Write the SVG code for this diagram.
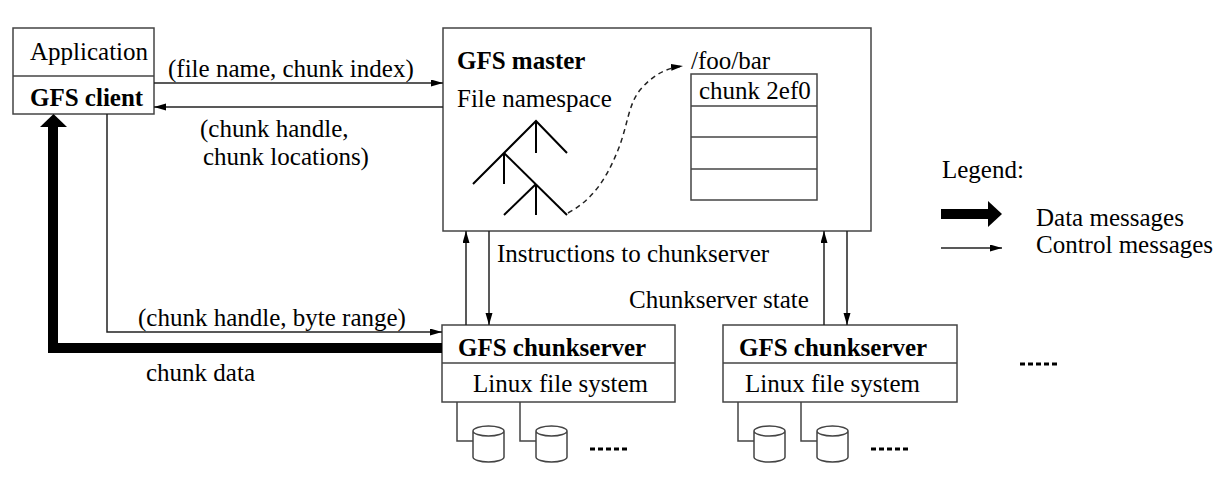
<svg xmlns="http://www.w3.org/2000/svg" width="1228" height="489" viewBox="0 0 1228 489">
<style>
text{font-family:"Liberation Serif","Times New Roman",serif;font-size:25px;fill:#000}
.b{font-weight:bold}
.box{fill:#fff;stroke:#444;stroke-width:1.5}
.ln{fill:none;stroke:#444;stroke-width:1.5}
.arr{fill:none;stroke:#222;stroke-width:1.5;marker-end:url(#ah)}
.thick{fill:none;stroke:#000;stroke-width:10;stroke-linejoin:miter}
.dots{fill:none;stroke:#000;stroke-width:3;stroke-dasharray:5 3}
.disk{fill:#fff;stroke:#444;stroke-width:1.5}
.tree{fill:none;stroke:#000;stroke-width:2}
</style>
<defs>
<marker id="ah" markerUnits="userSpaceOnUse" markerWidth="13" markerHeight="8" refX="12" refY="3.5" orient="auto">
<path d="M0,0 L12,3.5 L0,7 z" fill="#000"/>
</marker>
</defs>
<rect width="1228" height="489" fill="#fff"/>

<g id="client">
<rect class="box" x="13" y="28" width="141" height="86"/>
<line class="ln" x1="13" y1="76" x2="154" y2="76"/>
<text x="30" y="60">Application</text>
<text class="b" x="30" y="106">GFS client</text>
</g>

<g id="master">
<rect class="box" x="443" y="28" width="428" height="203"/>
<text class="b" x="457" y="69">GFS master</text>
<text x="457" y="107">File namespace</text>
<text x="691" y="69">/foo/bar</text>
<rect class="box" x="691" y="74" width="126" height="126"/>
<line class="ln" x1="691" y1="106" x2="817" y2="106"/>
<line class="ln" x1="691" y1="137" x2="817" y2="137"/>
<line class="ln" x1="691" y1="169" x2="817" y2="169"/>
<text x="699" y="99">chunk 2ef0</text>
<g class="tree">
<polyline points="473,184 536,121 567,153"/>
<line x1="536" y1="121" x2="536" y2="153"/>
<line x1="504" y1="153" x2="567" y2="215"/>
<line x1="504" y1="153" x2="504" y2="184"/>
<line x1="536" y1="184" x2="504" y2="215"/>
<line x1="536" y1="184" x2="536" y2="215"/>
</g>
<path d="M568,213 C592,200 606,180 618,150 C628,125 628,105 640,90 C652,76 665,68 683,66" fill="none" stroke="#222" stroke-width="1.5" stroke-dasharray="5 4" marker-end="url(#ah)"/>
</g>

<g id="chunkserver1">
<rect class="box" x="442" y="325" width="233" height="77"/>
<line class="ln" x1="442" y1="363" x2="675" y2="363"/>
<text class="b" x="458" y="356">GFS chunkserver</text>
<text x="473" y="392">Linux file system</text>
<path class="ln" d="M457,402 V441 H473 M520,402 V441 H536"/>
<path class="disk" d="M473,431 V457 A15.5,5 0 0 0 504,457 V431 A15.5,5 0 0 0 473,431 A15.5,5 0 0 0 504,431"/>
<path class="disk" d="M536,431 V457 A15.5,5 0 0 0 567,457 V431 A15.5,5 0 0 0 536,431 A15.5,5 0 0 0 567,431"/>
<line class="dots" x1="590" y1="449" x2="629" y2="449"/>
</g>

<g id="chunkserver2">
<rect class="box" x="723" y="325" width="234" height="77"/>
<line class="ln" x1="723" y1="363" x2="957" y2="363"/>
<text class="b" x="739" y="356">GFS chunkserver</text>
<text x="745" y="392">Linux file system</text>
<path class="ln" d="M738,402 V441 H754 M801,402 V441 H817"/>
<path class="disk" d="M754,431 V457 A15.5,5 0 0 0 785,457 V431 A15.5,5 0 0 0 754,431 A15.5,5 0 0 0 785,431"/>
<path class="disk" d="M817,431 V457 A15.5,5 0 0 0 848,457 V431 A15.5,5 0 0 0 817,431 A15.5,5 0 0 0 848,431"/>
<line class="dots" x1="871" y1="449" x2="910" y2="449"/>
</g>

<g id="more-chunkservers">
<line class="dots" x1="1020" y1="364" x2="1060" y2="364"/>
</g>

<g id="connectors">
<line class="arr" x1="154" y1="83" x2="443" y2="83"/>
<text x="168" y="77">(file name, chunk index)</text>
<line class="arr" x1="443" y1="107" x2="154" y2="107"/>
<text x="200" y="137">(chunk handle,</text>
<text x="203" y="165">chunk locations)</text>
<polyline class="arr" points="107,114 107,332 442,332"/>
<text x="138" y="326">(chunk handle, byte range)</text>
<polyline class="thick" points="442,348 53,348 53,126"/>
<polygon points="40,127 67,127 53.5,114" fill="#000"/>
<text x="146" y="381">chunk data</text>
<line class="arr" x1="466" y1="325" x2="466" y2="231"/>
<line class="arr" x1="489" y1="231" x2="489" y2="325"/>
<text x="497" y="262">Instructions to chunkserver</text>
<line class="arr" x1="824" y1="325" x2="824" y2="231"/>
<line class="arr" x1="847" y1="231" x2="847" y2="325"/>
<text x="629" y="308">Chunkserver state</text>
</g>

<g id="legend">
<text x="942" y="178">Legend:</text>
<rect x="941" y="209" width="48" height="10" fill="#000"/>
<polygon points="988,201 1002,214 988,227" fill="#000"/>
<text x="1036" y="226">Data messages</text>
<line class="arr" x1="941" y1="248" x2="1002" y2="248"/>
<text x="1036" y="253">Control messages</text>
</g>
</svg>
